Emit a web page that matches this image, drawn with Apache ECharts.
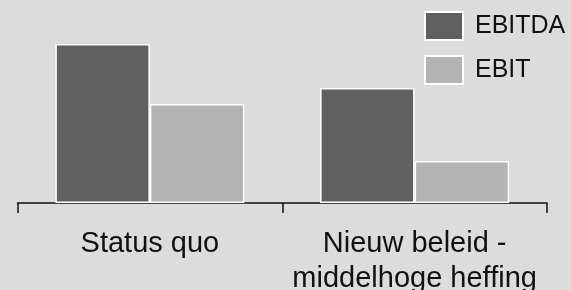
<!DOCTYPE html>
<html>
<head>
<meta charset="utf-8">
<script src="https://cdn.jsdelivr.net/npm/echarts@6/dist/echarts.min.js"></script>
<style>
  html, body { margin: 0; padding: 0; background: #dcdcdc; }
  #chart { width: 571px; height: 290px; }
</style>
</head>
<body>
<div id="chart"></div>
<script>
// scenario's en waarden (geschat uit de afbeelding)
const categories = ['Status quo', 'Nieuw beleid -\nmiddelhoge heffing'];
const ebitda = [159, 115];
const ebit = [99, 42];

const chart = echarts.init(document.getElementById('chart'));

const option = {
  backgroundColor: '#dcdcdc',
  animation: false,
  textStyle: { fontFamily: 'Liberation Sans, Arial, sans-serif' },
  legend: {
    orient: 'vertical',
    left: 424,
    top: 11,
    padding: 0,
    itemWidth: 38,
    itemHeight: 28,
    itemGap: 14,
    icon: 'rect',
    textStyle: { fontSize: 25, color: '#111', padding: [0, 0, 0, 7] },
    data: ['EBITDA', 'EBIT']
  },
  grid: { left: 17.5, right: 24, top: 33, bottom: 87, containLabel: false, outerBoundsMode: 'none' },
  xAxis: {
    type: 'category',
    data: categories,
    axisLine: { lineStyle: { color: '#111', width: 1.5 } },
    axisTick: { show: true, length: 10, lineStyle: { color: '#111', width: 1.5 } },
    axisLabel: { interval: 0, fontSize: 29, color: '#111', margin: 23, lineHeight: 35 }
  },
  yAxis: {
    type: 'value',
    min: 0,
    max: 170,
    show: false,
    splitLine: { show: false }
  },
  series: [
    {
      name: 'EBITDA',
      type: 'bar',
      data: ebitda,
      barWidth: '35.7%',
      barGap: '0%',
      itemStyle: { color: '#606060', borderColor: '#ffffff', borderWidth: 1.5 }
    },
    {
      name: 'EBIT',
      type: 'bar',
      data: ebit,
      barWidth: '35.7%',
      itemStyle: { color: '#b3b3b3', borderColor: '#ffffff', borderWidth: 1.5 }
    }
  ]
};

chart.setOption(option);
</script>
</body>
</html>
